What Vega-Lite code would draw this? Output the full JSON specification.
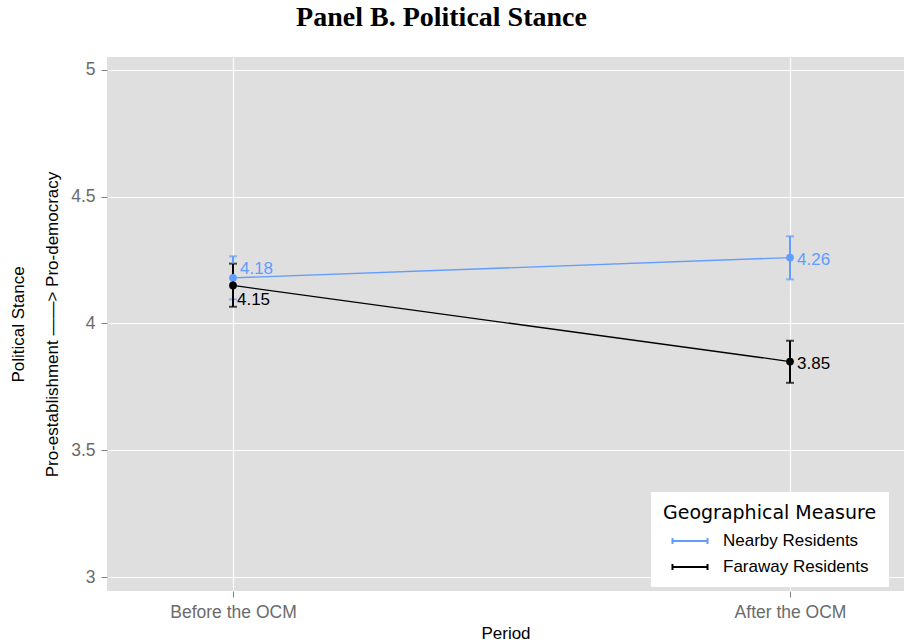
{
  "$schema": "https://vega.github.io/schema/vega-lite/v6.json",
  "width": 797,
  "height": 534,
  "autosize": {"type": "none"},
  "padding": {"left": 107, "top": 57, "right": 0, "bottom": 53},
  "background": "white",
  "title": {
    "text": "Panel B. Political Stance",
    "font": "Liberation Serif",
    "fontSize": 28,
    "fontWeight": "bold",
    "color": "black",
    "anchor": "middle",
    "frame": "group",
    "dx": -64,
    "baseline": "top",
    "offset": 25
  },
  "config": {
    "view": {"fill": "#DFDFDF", "stroke": null},
    "axis": {
      "domain": false,
      "grid": true,
      "gridColor": "white",
      "gridWidth": 1.2,
      "tickColor": "#7F7F7F",
      "tickSize": 6,
      "labelColor": "#6B6B6B",
      "labelFont": "Liberation Sans",
      "labelFontSize": 17.5,
      "titleFont": "Liberation Sans",
      "titleFontSize": 17,
      "titleFontWeight": "normal",
      "titleColor": "black"
    },
    "legend": {
      "orient": "none",
      "legendX": 544,
      "legendY": 435,
      "fillColor": "white",
      "padding": 12,
      "titleFont": "DejaVu Sans",
      "titleFontSize": 19,
      "titleFontWeight": "normal",
      "titleColor": "black",
      "titlePadding": 9,
      "titleLimit": 400,
      "labelFont": "Liberation Sans",
      "labelFontSize": 17,
      "labelColor": "black",
      "labelOffset": 24,
      "rowPadding": 9,
      "symbolType": "M-2.19,0H2.19M-2.19,-0.375V0.375M2.19,-0.375V0.375",
      "symbolSize": 256,
      "symbolStrokeWidth": 2,
      "symbolOffset": 18
    }
  },
  "data": {
    "values": [
      {"period": "Before the OCM", "group": "Nearby Residents", "value": 4.18, "lo": 4.095, "hi": 4.265},
      {"period": "After the OCM", "group": "Nearby Residents", "value": 4.26, "lo": 4.174, "hi": 4.344},
      {"period": "Before the OCM", "group": "Faraway Residents", "value": 4.15, "lo": 4.066, "hi": 4.236},
      {"period": "After the OCM", "group": "Faraway Residents", "value": 3.85, "lo": 3.766, "hi": 3.932}
    ]
  },
  "encoding": {
    "x": {
      "field": "period",
      "type": "ordinal",
      "sort": ["Before the OCM", "After the OCM"],
      "scale": {"type": "point", "padding": 0.2154, "align": 0.525},
      "axis": {"title": "Period", "labelAngle": 0, "labelPadding": 6, "titlePadding": 5}
    },
    "color": {
      "field": "group",
      "type": "nominal",
      "scale": {"domain": ["Nearby Residents", "Faraway Residents"], "range": ["#619CFF", "#000000"]},
      "legend": null
    }
  },
  "layer": [
    {
      "mark": {"type": "line", "strokeWidth": 1.3},
      "encoding": {
        "y": {
          "field": "value",
          "type": "quantitative",
          "title": ["Political Stance", "Pro-establishment ——> Pro-democracy"],
          "scale": {"domain": [2.945, 5.051], "nice": false, "zero": false},
          "axis": {
            "values": [3, 3.5, 4, 4.5, 5],
            "format": "~g",
            "labelPadding": 6,
            "titlePadding": 9,
            "titleLineHeight": 34
          }
        },
        "color": {
          "field": "group",
          "type": "nominal",
          "title": "Geographical Measure",
          "legend": {}
        }
      }
    },
    {
      "mark": {"type": "errorbar", "ticks": {"size": 8}, "thickness": 2},
      "encoding": {
        "y": {"field": "lo", "type": "quantitative", "title": ["Political Stance", "Pro-establishment ——> Pro-democracy"]},
        "y2": {"field": "hi"}
      }
    },
    {
      "mark": {"type": "point", "filled": true, "opacity": 1, "size": 60},
      "encoding": {
        "y": {"field": "value", "type": "quantitative"}
      }
    },
    {
      "transform": [{"filter": "datum.period == 'Before the OCM' && datum.group == 'Nearby Residents'"}],
      "mark": {"type": "text", "align": "left", "baseline": "middle", "dx": 7, "dy": -9, "font": "Liberation Sans", "fontSize": 17},
      "encoding": {
        "y": {"field": "value", "type": "quantitative"},
        "text": {"field": "value", "type": "quantitative", "format": ".2f"}
      }
    },
    {
      "transform": [{"filter": "datum.period == 'Before the OCM' && datum.group == 'Faraway Residents'"}],
      "mark": {"type": "text", "align": "left", "baseline": "middle", "dx": 4, "dy": 15, "font": "Liberation Sans", "fontSize": 17},
      "encoding": {
        "y": {"field": "value", "type": "quantitative"},
        "text": {"field": "value", "type": "quantitative", "format": ".2f"}
      }
    },
    {
      "transform": [{"filter": "datum.period == 'After the OCM'"}],
      "mark": {"type": "text", "align": "left", "baseline": "middle", "dx": 7, "dy": 2, "font": "Liberation Sans", "fontSize": 17},
      "encoding": {
        "y": {"field": "value", "type": "quantitative"},
        "text": {"field": "value", "type": "quantitative", "format": ".2f"}
      }
    }
  ]
}
